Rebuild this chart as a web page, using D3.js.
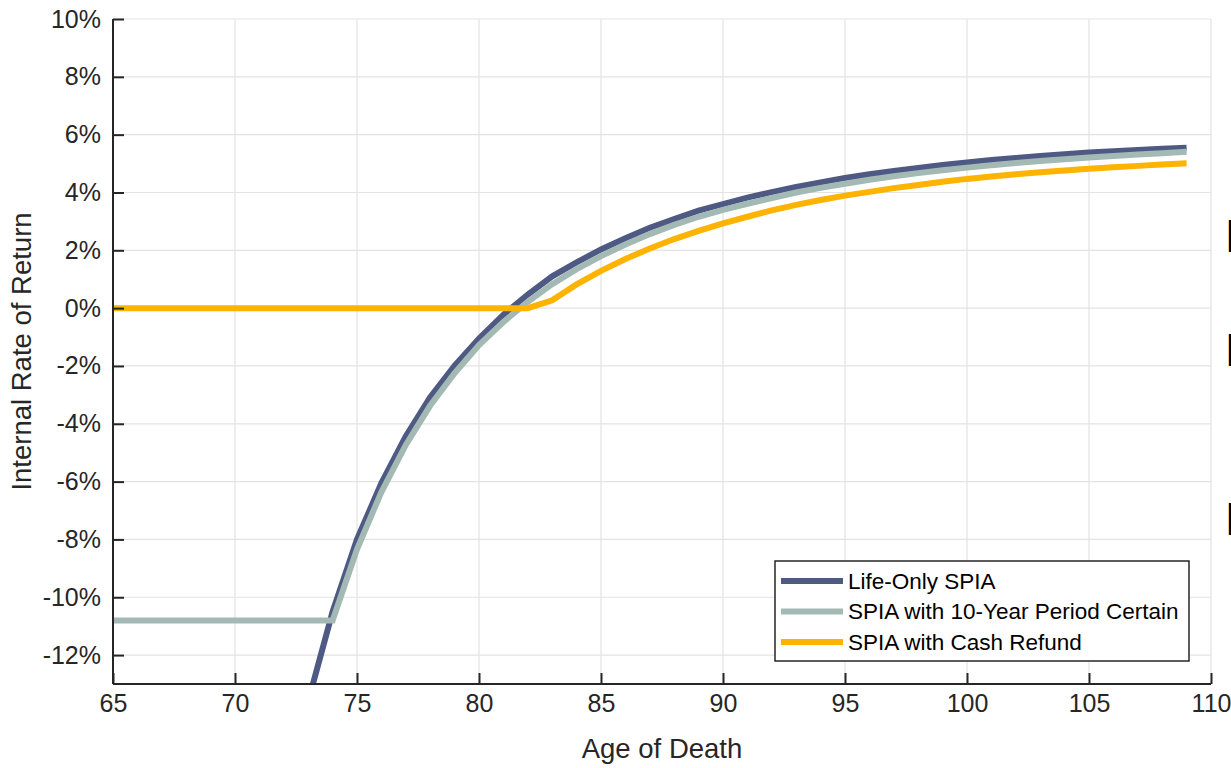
<!DOCTYPE html>
<html>
<head>
<meta charset="utf-8">
<script src="https://cdn.jsdelivr.net/npm/d3@7"></script>
<style>
  html, body { margin: 0; padding: 0; background: #fff; overflow: hidden; }
  svg { display: block; font-family: "Liberation Sans", Arial, sans-serif; }
</style>
</head>
<body>
<div id="chart"></div>
<script>
'use strict';

// ─── Data ─────────────────────────────────────────────────────────────────────
const ages = [65, 66, 67, 68, 69, 70, 71, 72, 73, 74, 75, 76, 77, 78, 79, 80, 81, 82, 83, 84,
  85, 86, 87, 88, 89, 90, 91, 92, 93, 94, 95, 96, 97, 98, 99, 100, 101, 102, 103, 104,
  105, 106, 107, 108, 109];

// IRR in percent, null where the series is off the chart
const lifeOnly = [null, null, null, null, null, null, null, null, -13.6, -10.5,
  -8.0, -6.05, -4.43, -3.08, -1.99, -1.05, -0.23, 0.47, 1.1, 1.58,
  2.03, 2.42, 2.78, 3.08, 3.37, 3.60, 3.82, 4.01, 4.19, 4.35,
  4.5, 4.63, 4.74, 4.85, 4.95, 5.04, 5.12, 5.19, 5.26, 5.32,
  5.38, 5.43, 5.47, 5.51, 5.55];

const periodCertain = [-10.8, -10.8, -10.8, -10.8, -10.8, -10.8, -10.8, -10.8, -10.8, -10.8,
  -8.34, -6.36, -4.73, -3.37, -2.25, -1.28, -0.48, 0.22, 0.83, 1.35,
  1.80, 2.2, 2.56, 2.88, 3.16, 3.4, 3.61, 3.81, 4.0, 4.16,
  4.3, 4.44, 4.56, 4.67, 4.77, 4.86, 4.94, 5.02, 5.09, 5.15,
  5.21, 5.26, 5.31, 5.36, 5.41];

const cashRefund = [0, 0, 0, 0, 0, 0, 0, 0, 0, 0,
  0, 0, 0, 0, 0, 0, 0, 0, 0.27, 0.82,
  1.29, 1.70, 2.06, 2.39, 2.67, 2.93, 3.16, 3.38, 3.57, 3.74,
  3.89, 4.02, 4.15, 4.26, 4.37, 4.47, 4.55, 4.63, 4.70, 4.76,
  4.82, 4.87, 4.92, 4.97, 5.01];

const seriesNames  = ['Life-Only SPIA', 'SPIA with 10-Year Period Certain', 'SPIA with Cash Refund'];
const seriesColors = ['#4f5a84', '#a3b9b4', '#fdb300'];

const xTicks = [65, 70, 75, 80, 85, 90, 95, 100, 105, 110];
const yTicks = [-12, -10, -8, -6, -4, -2, 0, 2, 4, 6, 8, 10];

// cut-off glyphs from a neighbouring panel at the right edge
const edgeGlyphs = ['B', 'B', 'B'];
const edgeGlyphBaselines = [252, 366, 535];

// ─── Layout ───────────────────────────────────────────────────────────────────
const W = 1231, H = 768;
const M = { left: 113, right: 20, top: 19, bottom: 84 };
const INK = '#262626';
const GRID = '#e3e3e3';

const x = d3.scaleLinear().domain([65, 110]).range([M.left, W - M.right]);
const y = d3.scaleLinear().domain([-13, 10]).range([H - M.bottom, M.top]);

const svg = d3.select('#chart').append('svg').attr('width', W).attr('height', H);

svg.append('defs').append('clipPath').attr('id', 'plotClip')
  .append('rect')
  .attr('x', x(65)).attr('y', y(10))
  .attr('width', x(110) - x(65)).attr('height', y(-13) - y(10));

// ─── Grid ─────────────────────────────────────────────────────────────────────
const grid = svg.append('g').attr('stroke', GRID).attr('stroke-width', 1.2);
xTicks.forEach(t => {
  grid.append('line').attr('x1', x(t)).attr('x2', x(t)).attr('y1', y(10)).attr('y2', y(-13));
});
yTicks.forEach(t => {
  grid.append('line').attr('x1', x(65)).attr('x2', x(110)).attr('y1', y(t)).attr('y2', y(t));
});

// ─── Series ───────────────────────────────────────────────────────────────────
const line = d3.line()
  .defined(d => d[1] !== null)
  .x(d => x(d[0]))
  .y(d => y(d[1]));

const plotG = svg.append('g').attr('clip-path', 'url(#plotClip)');
[lifeOnly, periodCertain, cashRefund].forEach((vals, i) => {
  plotG.append('path')
    .datum(ages.map((a, k) => [a, vals[k]]))
    .attr('fill', 'none')
    .attr('stroke', seriesColors[i])
    .attr('stroke-width', 6)
    .attr('stroke-linejoin', 'miter')
    .attr('d', line);
});

// ─── Axes (ticks inside) ──────────────────────────────────────────────────────
const xAxis = svg.append('g')
  .attr('transform', `translate(0,${y(-13)})`)
  .call(d3.axisBottom(x).tickValues(xTicks).tickSizeInner(-11).tickSizeOuter(0).tickPadding(22)
    .tickFormat(d3.format('d')));
const yAxis = svg.append('g')
  .attr('transform', `translate(${x(65)},0)`)
  .call(d3.axisLeft(y).tickValues(yTicks).tickSizeInner(-11).tickSizeOuter(0).tickPadding(12)
    .tickFormat(d => `${d}%`));

[xAxis, yAxis].forEach(g => {
  g.select('.domain').attr('stroke', INK).attr('stroke-width', 2);
  g.selectAll('.tick line').attr('stroke', INK).attr('stroke-width', 2);
  g.selectAll('.tick text').attr('fill', INK).attr('font-size', 25)
    .attr('font-family', '"Liberation Sans", Arial, sans-serif');
});
xAxis.select('.domain').attr('d', `M${x(65)},0H${x(110)}`);
xAxis.selectAll('.tick text').attr('dy', '0.71em').attr('y', 10);
yAxis.select('.domain').attr('d', `M0,${y(-13)}V${y(10)}`);

// ─── Axis titles ──────────────────────────────────────────────────────────────
svg.append('text')
  .attr('x', (x(65) + x(110)) / 2)
  .attr('y', 758)
  .attr('text-anchor', 'middle')
  .attr('font-size', 27.5)
  .attr('fill', INK)
  .text('Age of Death');

svg.append('text')
  .attr('transform', `translate(31,${(y(10) + y(-13)) / 2}) rotate(-90)`)
  .attr('text-anchor', 'middle')
  .attr('font-size', 27.5)
  .attr('fill', INK)
  .text('Internal Rate of Return');

// ─── Legend ───────────────────────────────────────────────────────────────────
const legend = svg.append('g').attr('transform', 'translate(775,561)');
legend.append('rect')
  .attr('width', 414).attr('height', 100)
  .attr('fill', '#fff').attr('stroke', INK).attr('stroke-width', 1.5);
seriesNames.forEach((name, i) => {
  const cy = 20 + i * 30.5;
  legend.append('line')
    .attr('x1', 6).attr('x2', 68).attr('y1', cy).attr('y2', cy)
    .attr('stroke', seriesColors[i]).attr('stroke-width', 6);
  legend.append('text')
    .attr('x', 73).attr('y', cy)
    .attr('dy', '0.35em')
    .attr('font-size', 22.5)
    .attr('fill', '#000')
    .text(name);
});

// ─── Edge fragments ───────────────────────────────────────────────────────────
edgeGlyphs.forEach((g, i) => {
  svg.append('text')
    .attr('x', 1225).attr('y', edgeGlyphBaselines[i])
    .attr('font-size', 47)
    .attr('fill', '#000')
    .text(g);
});
</script>
</body>
</html>
